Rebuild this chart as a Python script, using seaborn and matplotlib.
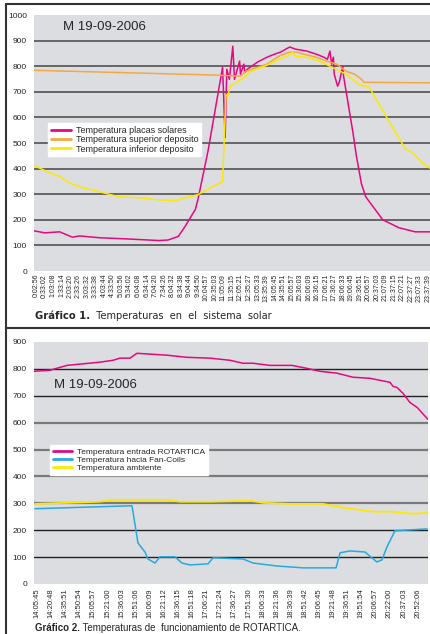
import pandas as pd
import numpy as np
import matplotlib
matplotlib.use('Agg')
import matplotlib.pyplot as plt
from matplotlib.lines import Line2D
import seaborn as sns

sns.set_style('white')
plt.rcParams['font.family'] = ['Liberation Sans Narrow', 'Liberation Sans', 'DejaVu Sans']

# --- Gráfico 1 data (x = position along the time-label axis) ---
ticks1 = ['0:02:56', '0:33:02', '1:03:08', '1:33:14', '2:03:20', '2:33:26', '3:03:32',
          '3:33:38', '4:03:44', '4:33:50', '5:03:56', '5:34:02', '6:04:08', '6:34:14',
          '7:04:20', '7:34:26', '8:04:32', '8:34:38', '9:04:44', '9:34:50', '10:04:57',
          '10:35:03', '11:05:09', '11:35:15', '12:05:21', '12:35:27', '13:05:33',
          '13:35:39', '14:05:45', '14:35:51', '15:05:57', '15:36:03', '16:06:09',
          '16:36:15', '17:06:21', '17:36:27', '18:06:33', '19:06:45', '19:36:51',
          '20:06:57', '20:37:03', '21:07:09', '21:37:15', '22:07:21', '22:37:27',
          '23:07:33', '23:37:39']

placas_x = [-0.23, 1.04, 2.78, 4.29, 5.10, 7.42, 10.9, 14.4, 15.5, 16.7, 17.5, 18.2, 18.7,
            19.0, 20.2, 21.9, 22.2, 22.4, 22.7, 23.1, 23.3, 23.9, 24.0, 24.4, 24.5, 24.8,
            26.0, 27.1, 28.0, 28.7, 29.5, 29.8, 30.4, 31.8, 32.9, 33.8, 34.2, 34.5, 34.7,
            34.9, 35.0, 35.4, 35.6, 36.0, 36.1, 37.2, 37.6, 38.2, 38.7, 40.7, 42.6, 44.5,
            46.4]
placas_y = [157, 149, 153, 132, 137, 130, 125, 119, 121, 135, 174, 213, 240,
            278, 470, 796, 521, 788, 749, 878, 749, 820, 769, 808, 776, 788,
            816, 835, 847, 855, 870, 875, 867, 859, 847, 835, 827, 859, 808,
            835, 769, 722, 737, 800, 761, 541, 450, 340, 290, 200, 169, 153,
            153]

superior_x = [-0.23, 21.4, 22.7, 24.0, 24.6, 27.1, 28.5, 29.7, 30.6, 31.4, 32.9, 34.1,
              35.3, 36.4, 37.4, 38.2, 38.5, 46.4]
superior_y = [784, 765, 763, 761, 780, 808, 839, 855, 855, 847, 835, 820,
              808, 780, 769, 749, 737, 735]

inferior_x = [-0.23, 1.6, 2.8, 3.9, 5.1, 7.4, 9.7, 12.1, 14.4, 16.4, 17.5, 19.0, 20.5,
              21.9, 22.3, 22.5, 22.8, 23.7, 24.5, 25.2, 27.1, 28.5, 29.5, 30.1, 30.4,
              31.8, 33.3, 34.5, 36.4, 37.9, 39.1, 41.1, 42.2, 43.4, 44.2, 45.4, 46.4]
inferior_y = [412, 384, 369, 345, 329, 310, 290, 286, 278, 275, 286, 298, 325,
              349, 690, 682, 722, 741, 757, 780, 804, 827, 839, 855, 839,
              835, 820, 800, 769, 729, 718, 604, 541, 475, 463, 420, 398]

# --- Gráfico 2 data ---
ticks2 = ['14:05:45', '14:20:48', '14:35:51', '14:50:54', '15:05:57', '15:21:00',
          '15:36:03', '15:51:06', '16:06:09', '16:21:12', '16:36:15', '16:51:18',
          '17:06:21', '17:21:24', '17:36:27', '17:51:30', '18:06:33', '18:21:36',
          '18:36:39', '18:51:42', '19:06:45', '19:21:48', '19:36:51', '19:51:54',
          '20:06:57', '20:22:00', '20:37:03', '20:52:06']

entrada_x = [-0.21, 0.92, 2.13, 4.47, 5.39, 5.89, 6.60, 7.09, 9.22, 10.64, 12.27, 13.69,
             14.61, 15.32, 16.52, 18.09, 19.15, 20.07, 21.28, 22.41, 23.62, 25.04, 25.25,
             25.53, 25.96, 26.45, 26.95, 27.73]
entrada_y = [791, 795, 813, 825, 832, 840, 840, 858, 851, 843, 840, 832,
             821, 821, 813, 813, 802, 791, 784, 769, 765, 750, 735,
             731, 709, 675, 657, 612]

fancoil_x = [-0.14, 6.74, 7.16, 7.66, 7.87, 8.37, 8.72, 9.79, 10.28, 10.85, 12.13, 12.48,
             12.77, 14.61, 15.32, 17.02, 18.87, 21.21, 21.49, 22.20, 23.26, 23.76, 24.11,
             24.47, 24.82, 25.39, 27.66]
fancoil_y = [280, 291, 153, 119, 93, 78, 101, 101, 78, 71, 75, 97,
             97, 93, 78, 67, 60, 60, 116, 123, 119, 97, 82,
             90, 138, 198, 205]

ambiente_x = [-0.14, 2.13, 4.47, 5.39, 9.22, 10.14, 12.27, 15.11, 16.03, 17.94, 20.28,
              21.70, 23.83, 25.25, 26.67, 27.73]
ambiente_y = [298, 302, 306, 313, 313, 306, 306, 310, 302, 298, 298,
              284, 269, 269, 261, 265]

PINK = '#e5097f'
ORANGE = '#f4a742'
YELLOW = '#fde800'
BLUE = '#27a9e1'
BG = '#dcdde0'

fig = plt.figure(figsize=(4.31, 6.34), dpi=100)
W, H = 431.0, 634.0


def fx(px):
    return px / W


def fy(py):
    return 1 - py / H


def draw_series(ax, xs, ys, color, label, lw=1.1):
    df = pd.DataFrame({'x': xs, 'y': ys})
    sns.lineplot(data=df, x='x', y='y', ax=ax, color=color, lw=lw, label=label,
                 estimator=None, sort=False)


# ---------------- Gráfico 1 ----------------
ax1 = fig.add_axes([fx(34), fy(271), fx(431) - fx(34), fy(15) - fy(271)])
ax1.set_facecolor(BG)
for v in range(100, 1000, 100):
    ax1.axhline(v, color='#5c5c5c', lw=1.3, zorder=1)
draw_series(ax1, placas_x, placas_y, PINK, 'Temperatura placas solares')
draw_series(ax1, superior_x, superior_y, ORANGE, 'Temperatura superior deposito')
draw_series(ax1, inferior_x, inferior_y, YELLOW, 'Temperatura inferior deposito')
ax1.set_xlim(-0.23, 46.36)
ax1.set_ylim(0, 1000)
ax1.set_yticks(range(0, 1001, 100))
ax1.set_xticks(range(len(ticks1)))
ax1.set_xticklabels(ticks1, rotation=90, fontsize=5)
ax1.tick_params(axis='y', labelsize=6, length=0, pad=5)
ax1.tick_params(axis='x', length=0, pad=2)
ax1.set_xlabel('')
ax1.set_ylabel('')
for s in ax1.spines.values():
    s.set_visible(False)
ax1.text(fx(63), fy(27), 'M 19-09-2006', transform=fig.transFigure, fontsize=9.5,
         va='center', ha='left', family=['Liberation Sans', 'DejaVu Sans'])
leg1 = ax1.legend(loc='upper left', bbox_to_anchor=(fx(48), fy(123)),
                  bbox_transform=fig.transFigure, fontsize=6.5, frameon=True,
                  fancybox=False, framealpha=1, edgecolor='white', borderpad=0.3,
                  labelspacing=0.05, handlelength=2.2, handletextpad=0.6,
                  borderaxespad=0)
for h in leg1.get_lines():
    h.set_linewidth(2)

t1 = fig.text(fx(35), fy(316), 'Gráfico 1.', fontsize=7.2, fontweight='bold',
              va='center', ha='left', family=['DejaVu Sans'])
ax1.annotate('  Temperaturas  en  el  sistema  solar', xy=(1, 0.5), xycoords=t1,
             va='center', ha='left', fontsize=7.0, family=['DejaVu Sans'],
             annotation_clip=False)

# ---------------- Gráfico 2 ----------------
ax2 = fig.add_axes([fx(34), fy(584), fx(428) - fx(34), fy(342) - fy(584)])
ax2.set_facecolor(BG)
grid_cols = {100: '#222222', 200: '#222222', 300: '#7a7a7a', 400: '#7a7a7a',
             500: '#7a7a7a', 600: '#7a7a7a', 700: '#222222', 800: '#222222'}
for v, c in grid_cols.items():
    ax2.axhline(v, color=c, lw=1.0 if c == '#222222' else 1.6, zorder=1)
draw_series(ax2, entrada_x, entrada_y, PINK, 'Temperatura entrada ROTARTICA')
draw_series(ax2, fancoil_x, fancoil_y, BLUE, 'Temperatura hacia Fan-Coils')
draw_series(ax2, ambiente_x, ambiente_y, YELLOW, 'Temperatura ambiente', lw=1.3)
ax2.set_xlim(-0.21, 27.73)
ax2.set_ylim(0, 900)
ax2.set_yticks(range(0, 901, 100))
ax2.set_xticks(range(len(ticks2)))
ax2.set_xticklabels(ticks2, rotation=90, fontsize=5.5)
ax2.tick_params(axis='y', labelsize=6, length=0, pad=5)
ax2.tick_params(axis='x', length=0, pad=3)
ax2.set_xlabel('')
ax2.set_ylabel('')
for s in ax2.spines.values():
    s.set_visible(False)
ax2.text(fx(54), fy(385), 'M 19-09-2006', transform=fig.transFigure, fontsize=9.5,
         va='center', ha='left', family=['Liberation Sans', 'DejaVu Sans'])
leg2 = ax2.legend(loc='upper left', bbox_to_anchor=(fx(50), fy(445)),
                  bbox_transform=fig.transFigure, fontsize=6.0, frameon=True,
                  fancybox=False, framealpha=1, edgecolor='white', borderpad=0.35,
                  labelspacing=0.05, handlelength=2.3, handletextpad=0.6,
                  borderaxespad=0)
for h in leg2.get_lines():
    h.set_linewidth(2)

t2 = fig.text(fx(35), fy(628), 'Gráfico 2.', fontsize=7, fontweight='bold',
              va='center', ha='left')
ax2.annotate(' Temperaturas de  funcionamiento de ROTARTICA.', xy=(1, 0.5), xycoords=t2,
             va='center', ha='left', fontsize=7, annotation_clip=False)

# panel frame lines
for seg in [((6, 6), (4, 634)), ((6, 431), (4, 4)), ((6, 431), (328, 328))]:
    fig.add_artist(Line2D([fx(seg[0][0]), fx(seg[0][1])], [fy(seg[1][0]), fy(seg[1][1])],
                          color='#333333', lw=1.5, transform=fig.transFigure))

fig.savefig('out.png', dpi=100)
